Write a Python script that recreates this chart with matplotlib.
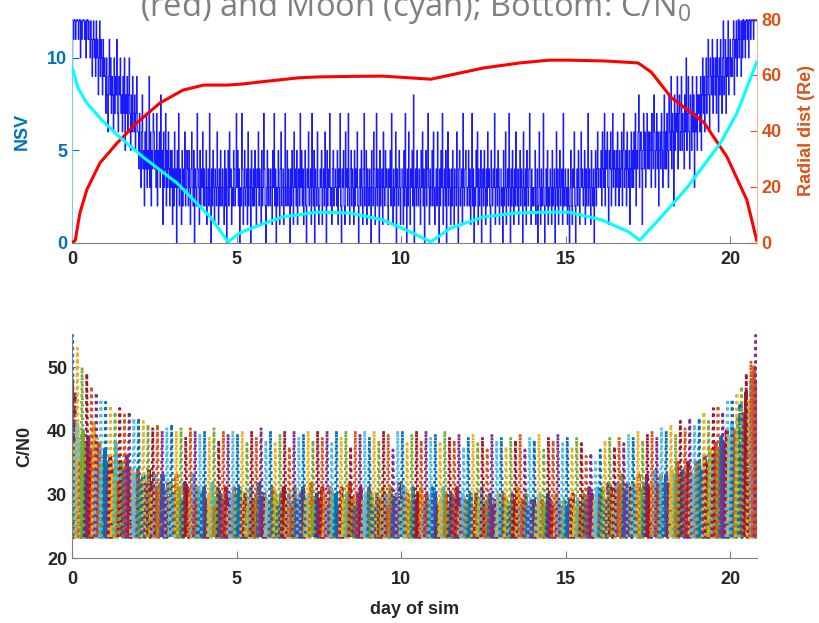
import numpy as np
import matplotlib
matplotlib.use("Agg")
import matplotlib.pyplot as plt

plt.rcParams['font.family'] = ['Liberation Sans', 'DejaVu Sans']
plt.rcParams['mathtext.fontset'] = 'custom'
plt.rcParams['mathtext.rm'] = 'Open Sans'

# ---- top panel: number of visible SVs, sampled 48x per day ----
nsv = [
    9, 12, 11, 13, 12, 11, 12, 13, 12, 11, 12, 13, 10, 12, 11, 12, 13, 12, 11, 12, 10, 12, 13, 11,
    12, 11, 10, 12, 11, 9, 11, 12, 10, 11, 9, 12, 10, 11, 8, 10, 12, 9, 11, 10, 8, 11, 9, 10,
    9, 7, 10, 8, 6, 9, 11, 8, 10, 7, 9, 8, 6, 10, 7, 9, 8, 11, 7, 6, 9, 8, 10, 7,
    8, 6, 9, 7, 10, 5, 8, 7, 9, 6, 8, 10, 7, 5, 8, 6, 9, 7, 6, 8, 5, 7, 9, 6,
    6, 4, 7, 5, 3, 6, 8, 4, 5, 2, 6, 4, 7, 3, 5, 4, 9, 3, 6, 2, 5, 4, 7, 6,
    4, 5, 3, 7, 2, 5, 4, 6, 3, 8, 4, 5, 1, 6, 3, 4, 7, 2, 5, 3, 6, 4, 2, 5,
    3, 5, 1, 4, 2, 6, 3, 4, 0, 5, 3, 7, 2, 4, 3, 1, 5, 2, 4, 3, 6, 2, 3, 5,
    4, 2, 5, 3, 1, 4, 6, 3, 2, 5, 0, 4, 3, 2, 7, 4, 3, 1, 5, 2, 4, 3, 6, 2,
    4, 2, 3, 5, 1, 3, 4, 2, 7, 3, 0, 4, 2, 5, 3, 1, 4, 3, 2, 6, 3, 1, 4, 2,
    5, 3, 2, 4, 3, 1, 5, 2, 4, 0, 3, 5, 2, 6, 3, 4, 1, 3, 2, 5, 4, 2, 3, 7,
    3, 5, 2, 4, 0, 3, 2, 7, 4, 1, 3, 5, 2, 3, 4, 1, 6, 2, 3, 4, 0, 5, 3, 2,
    4, 2, 5, 3, 1, 4, 3, 6, 2, 4, 3, 1, 5, 2, 3, 7, 4, 2, 0, 3, 5, 2, 4, 3,
    2, 4, 3, 1, 5, 3, 7, 2, 4, 0, 3, 2, 5, 3, 1, 4, 6, 2, 3, 4, 1, 3, 7, 2,
    3, 5, 2, 4, 3, 0, 4, 2, 5, 3, 1, 6, 3, 4, 2, 5, 1, 3, 4, 2, 7, 3, 5, 2,
    4, 1, 3, 5, 2, 0, 4, 3, 6, 2, 3, 4, 1, 7, 3, 2, 5, 0, 4, 3, 2, 6, 3, 1,
    2, 4, 3, 5, 1, 3, 4, 2, 6, 3, 0, 5, 2, 4, 3, 7, 2, 3, 1, 4, 5, 2, 3, 4,
    3, 2, 5, 1, 4, 3, 7, 2, 0, 4, 3, 5, 2, 1, 6, 3, 4, 2, 7, 3, 1, 4, 5, 2,
    4, 3, 1, 5, 2, 4, 3, 6, 2, 0, 3, 4, 2, 5, 3, 1, 4, 7, 2, 3, 5, 1, 4, 3,
    2, 4, 3, 0, 5, 3, 2, 6, 4, 1, 3, 7, 2, 4, 3, 0, 5, 2, 3, 4, 1, 6, 3, 2,
    5, 3, 4, 2, 1, 4, 3, 5, 2, 7, 3, 1, 4, 2, 3, 6, 0, 4, 3, 2, 5, 3, 1, 4,
    4, 3, 1, 5, 2, 7, 3, 0, 4, 2, 6, 3, 1, 4, 3, 5, 2, 8, 0, 3, 4, 2, 5, 3,
    2, 4, 3, 1, 5, 3, 6, 2, 4, 0, 3, 5, 2, 4, 7, 3, 1, 4, 2, 3, 5, 2, 6, 3,
    1, 3, 4, 2, 6, 3, 0, 4, 2, 5, 3, 7, 1, 3, 4, 2, 5, 0, 3, 6, 2, 4, 3, 1,
    4, 2, 5, 3, 1, 4, 3, 2, 6, 3, 0, 4, 5, 2, 3, 4, 1, 7, 3, 2, 4, 5, 3, 2,
    3, 5, 2, 4, 1, 3, 7, 2, 4, 0, 3, 2, 5, 3, 6, 1, 4, 2, 3, 5, 0, 3, 4, 2,
    5, 3, 1, 4, 2, 6, 3, 4, 2, 0, 5, 3, 2, 4, 3, 7, 1, 3, 4, 2, 5, 3, 1, 4,
    4, 2, 3, 0, 5, 2, 3, 6, 1, 3, 4, 2, 7, 3, 0, 4, 2, 5, 3, 1, 4, 2, 6, 3,
    2, 4, 1, 3, 5, 2, 4, 3, 0, 6, 3, 2, 4, 1, 5, 3, 2, 4, 7, 3, 1, 4, 2, 3,
    2, 3, 5, 1, 3, 4, 0, 2, 6, 3, 1, 4, 2, 3, 7, 2, 0, 3, 4, 2, 5, 1, 3, 2,
    4, 3, 1, 5, 2, 3, 4, 0, 3, 6, 2, 4, 1, 3, 5, 2, 3, 4, 1, 7, 2, 3, 4, 2,
    3, 1, 4, 2, 0, 3, 5, 2, 1, 4, 3, 6, 2, 0, 3, 4, 2, 5, 3, 1, 4, 6, 3, 4,
    2, 3, 5, 1, 4, 2, 3, 7, 2, 4, 3, 1, 5, 3, 2, 4, 0, 3, 5, 2, 4, 6, 3, 4,
    4, 3, 5, 2, 6, 4, 3, 7, 2, 5, 4, 6, 3, 1, 5, 4, 6, 2, 4, 7, 3, 5, 4, 2,
    5, 3, 6, 4, 2, 5, 3, 4, 6, 2, 5, 7, 3, 4, 5, 2, 6, 4, 3, 5, 1, 4, 6, 3,
    5, 3, 6, 4, 7, 2, 5, 4, 6, 8, 3, 5, 6, 4, 1, 5, 7, 4, 6, 3, 5, 7, 4, 6,
    4, 6, 5, 3, 7, 5, 4, 8, 6, 3, 5, 7, 4, 6, 2, 5, 6, 4, 7, 5, 3, 6, 8, 4,
    6, 4, 7, 5, 3, 8, 6, 5, 9, 4, 7, 6, 2, 8, 5, 7, 6, 9, 4, 7, 8, 5, 6, 9,
    5, 7, 6, 4, 8, 6, 10, 5, 7, 9, 6, 4, 8, 7, 5, 9, 6, 8, 3, 7, 6, 9, 5, 8,
    7, 8, 6, 9, 5, 8, 10, 7, 9, 6, 8, 10, 7, 9, 11, 8, 6, 10, 9, 8, 11, 7, 10, 9,
    8, 10, 7, 11, 9, 6, 10, 8, 11, 9, 7, 10, 12, 8, 9, 11, 7, 10, 9, 12, 8, 10, 11, 9,
    10, 9, 11, 12, 8, 11, 10, 12, 9, 11, 13, 10, 12, 11, 9, 12, 10, 13, 11, 12,
    10, 12, 13, 11, 12, 10, 13, 12, 11, 12, 13, 12, 11, 13, 12, 12, 13, 12,
]
t_end = 20.8

# spacecraft radial distance (Re)
rad_day = [0, 0.1, 0.24, 0.45, 0.85, 1.37, 1.98, 2.67, 3.37, 4.0, 4.7, 5.2, 5.7, 6.9,
           7.45, 8.5, 9.45, 10.9, 11.7, 12.5, 13.6, 14.5, 15.1, 16.2, 17.2, 17.6,
           18.2, 19.2, 19.9, 20.5, 20.8]
rad_re = [0, 1, 10.7, 19, 28.6, 35.7, 43, 50, 54.6, 56.4, 56.4, 56.8, 57.5, 59,
          59.3, 59.5, 59.6, 58.5, 60.5, 62.5, 64.3, 65.3, 65.3, 65, 64.3, 61,
          52, 43, 30.7, 15.4, 1]

# Moon distance (Re)
moon_day = [0, 0.03, 0.18, 0.45, 0.85, 1.37, 2.16, 3.19, 4.2, 4.74, 5.1, 5.7, 6.4,
            7.45, 8.45, 9.45, 10.27, 10.9, 11.5, 12.5, 13.5, 14.5, 15.1, 16.1,
            16.9, 17.25, 17.9, 18.7, 19.7, 20.2, 20.8]
moon_re = [62.5, 61.8, 55.4, 50, 44.6, 38.6, 30.7, 21.4, 9.3, 0.4, 3.6, 6.4, 9.3,
           11, 10.7, 8.2, 4, 0.4, 5.3, 9.3, 10.7, 11, 11, 8.2,
           4, 1, 9.3, 20, 35.7, 46.4, 64.6]

# ---- bottom panel: C/N0 of individual passes (peak values, dB-Hz) ----
cn0_floor = 23.3
high_peaks = [
    55, 53, 50, 49, 47, 46, 45,
    44.5, 44, 43, 43.5, 42.5, 43, 42,
    42, 41.5, 41, 40.5, 41, 40, 40.5,
    41, 40, 40.5, 39, 40.5, 40, 39.5,
    40, 39, 40.5, 38.5, 40, 39.5, 40,
    39.5, 40, 38, 40, 39, 40.5, 38.5,
    40, 38, 39.5, 40, 37.5, 40, 39,
    39.5, 40, 38.5, 40, 39, 40, 38,
    40, 39, 40, 37.5, 40, 39.5, 40,
    39, 40, 38.5, 40, 39.5, 37, 40,
    40, 38, 39.5, 40, 38.5, 40, 39,
    39.5, 38, 40, 39, 38.5, 39.5, 37.5,
    39, 39.5, 38, 39, 37, 39.5, 38.5,
    39, 37.5, 39, 38.5, 39.5, 37, 39,
    38.5, 39.5, 37, 39, 38.5, 39.5, 38,
    39, 37.5, 39, 38, 36, 36.5, 35.5,
    37, 38.5, 39, 37.5, 39, 38, 39.5,
    39, 40, 38.5, 39.5, 40, 39, 40.5,
    40, 41, 39.5, 41.5, 40.5, 42, 41,
    42, 43, 41.5, 43.5, 44, 43, 45,
    45, 46, 47, 49, 51, 55,
]
low_peaks = [
    48, 38, 41, 35, 40, 33, 39, 36, 41, 34, 38, 35,
    37, 34, 36, 33, 38, 32, 35, 34, 36, 31, 34, 33,
    34, 31, 33, 32, 34, 30, 33, 31, 32, 33, 30, 32,
    32, 30, 33, 31, 29, 32, 31, 30, 33, 29, 31, 30,
    31, 29, 30, 32, 28, 31, 30, 29, 31, 28, 30, 31,
    30, 31, 29, 30, 28, 31, 29, 30, 32, 28, 30, 29,
    29, 31, 30, 28, 30, 31, 29, 30, 28, 31, 29, 30,
    31, 29, 30, 32, 28, 30, 29, 31, 30, 28, 31, 30,
    30, 28, 31, 29, 30, 32, 29, 28, 30, 31, 29, 30,
    31, 30, 28, 30, 29, 31, 30, 28, 31, 29, 30, 32,
    29, 31, 30, 28, 31, 29, 30, 31, 28, 30, 29, 31,
    30, 28, 29, 31, 30, 28, 30, 29, 31, 28, 30, 29,
    29, 30, 28, 30, 29, 31, 28, 29, 30, 28, 29, 30,
    28, 30, 29, 28, 30, 29, 31, 28, 29, 30, 28, 29,
    29, 28, 30, 29, 28, 30, 29, 28, 30, 29, 28, 29,
    28, 29, 30, 28, 29, 28, 30, 29, 31, 30, 29, 31,
    30, 31, 29, 32, 31, 30, 32, 31, 33, 30, 32, 31,
    32, 31, 33, 30, 32, 33, 31, 32, 34, 31, 33, 32,
    33, 32, 34, 33, 35, 32, 34, 33, 35, 34, 33, 35,
    35, 34, 36, 35, 37, 36, 38, 37, 39, 38, 40, 39,
    41, 40, 42, 44, 43, 46, 45, 48, 50,
]

matlab_colors = ['#0072BD', '#D95319', '#EDB120', '#7E2F8E',
                 '#77AC30', '#4DBEEE', '#A2142F']
blue_ax = '#0072BD'
orange_ax = '#D95319'
dark = '#262626'

fig = plt.figure(figsize=(8.2, 6.23), dpi=100)

# ---------------- top ----------------
ax = fig.add_axes([0.0878, 0.61, 0.835, 0.3595])
t_nsv = np.linspace(0, t_end, len(nsv))
ax.plot(t_nsv, nsv, color='#0000FF', lw=0.7, alpha=0.9, drawstyle='steps-post')
ax.set_xlim(0, t_end)
ax.set_ylim(0, 12.1)
ax.set_yticks([0, 5, 10])
ax.set_xticks([0, 5, 10, 15, 20])
ax.set_ylabel('NSV', color=blue_ax, fontsize=13, fontweight='bold', labelpad=12)
ax.tick_params(axis='y', colors=blue_ax, direction='in', length=5, labelsize=13)
ax.tick_params(axis='x', colors='#808080', labelcolor=dark, direction='in',
               length=5, labelsize=13, pad=6)
for lbl in ax.get_xticklabels() + ax.get_yticklabels():
    lbl.set_fontweight('bold')
ax.spines['top'].set_visible(False)
ax.spines['right'].set_visible(False)
ax.spines['left'].set_color('#8EC3E6')
ax.spines['bottom'].set_color('#808080')

ax2 = ax.twinx()
ax2.plot(rad_day, rad_re, color='#FF0000', lw=2.2)
ax2.plot(moon_day, moon_re, color='#00FFFF', lw=2.2)
ax2.set_ylim(0, 80)
ax2.set_yticks([0, 20, 40, 60, 80])
ax2.set_ylabel('Radial dist (Re)', color=orange_ax, fontsize=13,
               fontweight='bold', labelpad=12)
ax2.tick_params(axis='y', colors=orange_ax, direction='in', length=5, labelsize=13)
for lbl in ax2.get_yticklabels():
    lbl.set_fontweight('bold')
ax2.spines['top'].set_visible(False)
ax2.spines['left'].set_visible(False)
ax2.spines['bottom'].set_visible(False)
ax2.spines['right'].set_color('#F2B9A0')

# ---------------- bottom ----------------
bx = fig.add_axes([0.0878, 0.1043, 0.835, 0.3595])
t_low = np.linspace(0.02, t_end - 0.05, len(low_peaks))
for i, (t, p) in enumerate(zip(t_low, low_peaks)):
    bx.plot([t - 0.07, t - 0.025, t + 0.02, t + 0.07],
            [cn0_floor, p, cn0_floor, p - 2], linestyle=(0, (3, 0.6)),
            color=matlab_colors[(i * 3 + 6) % 7], lw=2.8)
t_high = np.linspace(0.02, t_end - 0.03, len(high_peaks))
for i, (t, p) in enumerate(zip(t_high, high_peaks)):
    bx.plot([t - 0.05, t, t + 0.05], [cn0_floor, p, cn0_floor],
            linestyle=(0, (1, 1.4)), color=matlab_colors[(i * 2) % 7], lw=2.0)
bx.set_xlim(0, t_end)
bx.set_ylim(20, 55.2)
bx.set_xticks([0, 5, 10, 15, 20])
bx.set_yticks([20, 30, 40, 50])
bx.set_xlabel('day of sim', fontsize=13, fontweight='bold', color=dark, labelpad=10)
bx.set_ylabel('C/N0', fontsize=13, fontweight='bold', color=dark, labelpad=10)
bx.tick_params(colors='#808080', labelcolor=dark, direction='in', length=5,
               labelsize=13)
bx.tick_params(axis='x', pad=9)
for lbl in bx.get_xticklabels() + bx.get_yticklabels():
    lbl.set_fontweight('bold')
bx.spines['top'].set_visible(False)
bx.spines['right'].set_visible(False)
bx.spines['left'].set_color('#808080')
bx.spines['bottom'].set_color('#808080')

fig.text(0.507, 0.9743, '(red) and Moon (cyan); Bottom: C/N$_\\mathrm{0}$',
         ha='center', va='baseline', fontsize=23.5, color='#7F7F7F',
         family='Open Sans')

fig.savefig('out.png', dpi=100)
